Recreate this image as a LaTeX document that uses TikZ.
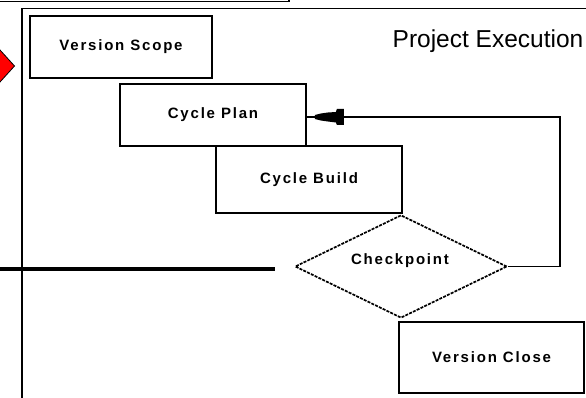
\documentclass[tikz,border=0pt]{standalone}
\usepackage{fontspec}
\setmainfont{Liberation Sans}
\newfontfamily\lblfont[LetterSpace=12]{Liberation Sans}
\usetikzlibrary{shapes.geometric}
\tikzset{
  every picture/.style={x=1pt,y=-1pt},
  lbl/.style={font=\lblfont\bfseries\fontsize{15}{17}\selectfont},
  box/.style={draw,line width=1.8pt,inner sep=0pt,lbl},
  chk/.style={draw,diamond,line width=1.7pt,dash pattern=on 3pt off 1.2pt,inner sep=0pt,minimum width=212pt,minimum height=103pt},
  frame/.style={line width=1.8pt},
  conn/.style={line width=1.8pt},
}
\begin{document}
\begin{tikzpicture}
\useasboundingbox (0,0) rectangle (586,398);
% red marker on the left
\filldraw[fill=red,draw=black,line width=0.8pt] (-16,66) -- (0,50) -- (14.5,66) -- (0,82) -- cycle;
% top box bottom edge
\draw[frame] (-5,1.5) -- (289,1.5) -- (289,-5);
% outer frame
\draw[frame] (22,405) -- (22,8.5) -- (592,8.5);
% thick horizontal line
\draw[line width=3.5pt] (-5,269) -- (275,269);
% nodes
\node[box,minimum width=182pt,minimum height=62pt] (vs) at (121,47) {Version Scope};
\node[box,minimum width=186pt,minimum height=62pt] (cp) at (213,115) {Cycle Plan};
\node[box,minimum width=186pt,minimum height=67pt] (cb) at (309,179.5) {Cycle Build};
\node[chk] (ck) at (401,266.5) {};
\node[lbl] (ckl) at (400,261) {Checkpoint};
\node[box,minimum width=185pt,minimum height=71pt] (vc) at (491.5,357.5) {Version Close};
\node[font=\fontsize{24.5}{27}\selectfont,inner sep=0pt] (pe) at (488,41) {Project Execution};
% loop connector
\coordinate (loop) at (560,117);
\draw[conn] (ck.east) -| (loop) -- (loop -| cp.east);
\fill[shift={(loop -| cp.east)}] (8,-2) -- (14,-3.5) -- (21,-4.5) -- (29,-5) -- (30,-8) -- (37,-8) -- (37,8) -- (30,8) -- (29,5.5) -- (21,4.5) -- (14,3.5) -- (8,2) -- cycle;
\end{tikzpicture}
\end{document}
